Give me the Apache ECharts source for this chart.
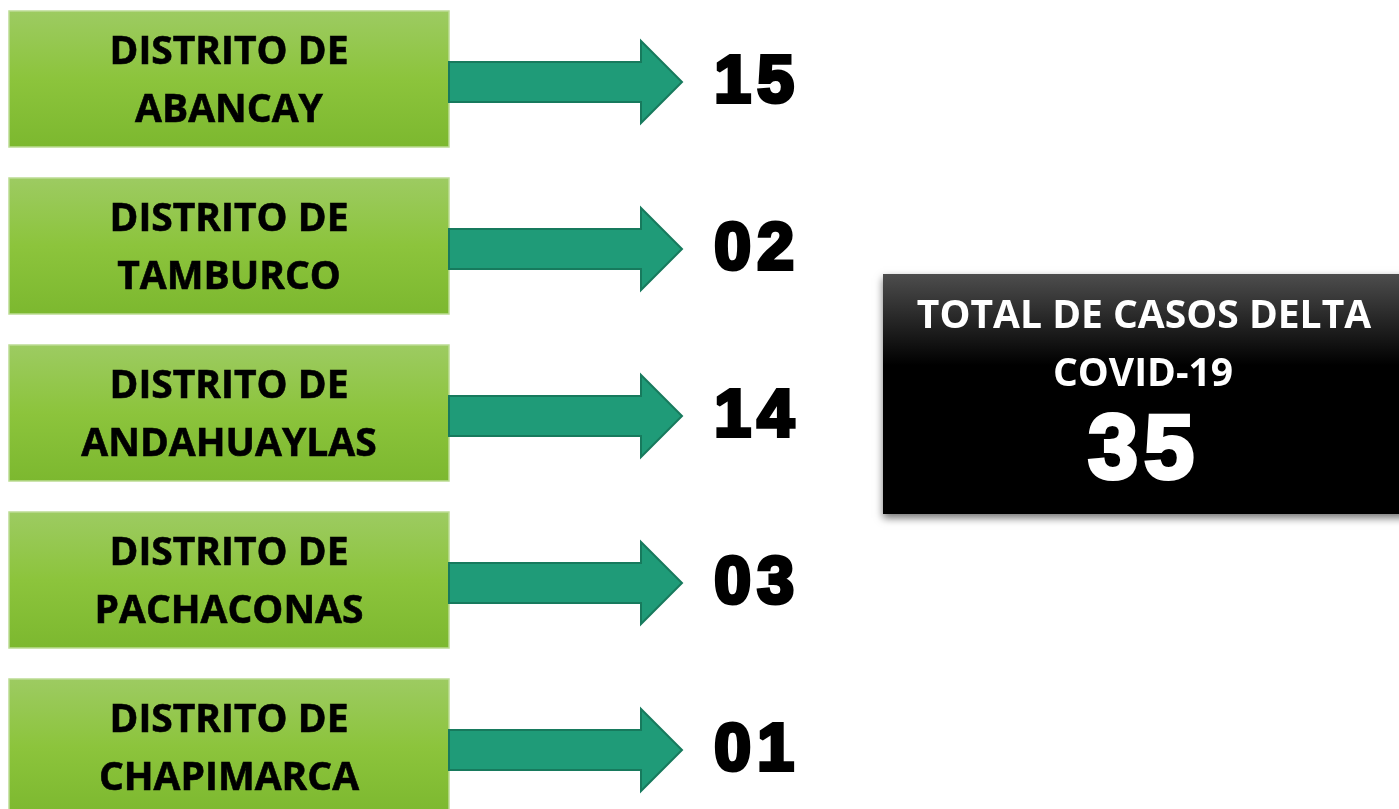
<!DOCTYPE html>
<html><head><meta charset="utf-8">
<style>html,body{margin:0;padding:0;background:#fff}#c{width:1399px;height:809px}</style>
<script src="https://cdn.jsdelivr.net/npm/echarts@6/dist/echarts.min.js"></script>
</head><body><div id="c"></div>
<script>
const districts = ['ABANCAY', 'TAMBURCO', 'ANDAHUAYLAS', 'PACHACONAS', 'CHAPIMARCA'];
const prefix = 'DISTRITO DE';
const cases = [15, 2, 14, 3, 1];
const totalTitle = ['TOTAL DE CASOS DELTA', 'COVID-19'];
const total = cases.reduce((a, b) => a + b, 0);

const chart = echarts.init(document.getElementById('c'), null, {renderer: 'canvas'});
const pad2 = n => String(n).padStart(2, '0');
const boxFont = 'bold 39px "Open Sans", sans-serif';

// draw a number as spaced digits (wide, heavy look)
function digitTexts(str, cx, cy, size, advance, color, lw) {
  const n = str.length;
  return str.split('').map((ch, k) => ({
    type: 'text',
    style: {
      x: cx + (k - (n - 1) / 2) * advance, y: cy, text: ch,
      font: 'bold ' + size + 'px "Liberation Sans", Arial, sans-serif',
      fill: color, stroke: color, lineWidth: lw,
      align: 'center', verticalAlign: 'middle'
    }
  }));
}

const option = {
  animation: false,
  backgroundColor: '#ffffff',
  grid: {left: 0, right: 0, top: 0, bottom: 0},
  xAxis: {type: 'value', min: 0, max: 1399, show: false},
  yAxis: {type: 'value', inverse: true, min: -79 / 167, max: (809 - 79) / 167, show: false},
  series: [{
    type: 'custom',
    data: cases.map((v, i) => [i, v]),
    encode: {x: 1, y: 0},
    renderItem: function (params, api) {
      const i = api.value(0);
      const v = api.value(1);
      const cy = api.coord([0, i])[1];
      const ay = cy + 3;
      return {
        type: 'group',
        children: [
          {
            type: 'rect',
            shape: {x: 9, y: cy - 68, width: 440, height: 136},
            style: {
              fill: new echarts.graphic.LinearGradient(0, 0, 0, 1, [
                {offset: 0, color: '#9dcb62'},
                {offset: 0.5, color: '#8cc43c'},
                {offset: 1, color: '#7cb82f'}
              ]),
              stroke: '#bcdc94', lineWidth: 1.5
            }
          },
          {
            type: 'text',
            style: {x: 229, y: cy - 26, text: prefix, font: boxFont, fill: '#000', stroke: '#000', lineWidth: 0.6, align: 'center', verticalAlign: 'middle'}
          },
          {
            type: 'text',
            style: {x: 229, y: cy + 32, text: districts[i], font: boxFont, fill: '#000', stroke: '#000', lineWidth: 0.6, align: 'center', verticalAlign: 'middle'}
          },
          {
            type: 'polygon',
            shape: {points: [
              [449, ay - 20], [641, ay - 20], [641, ay - 41], [682, ay],
              [641, ay + 41], [641, ay + 20], [449, ay + 20]
            ]},
            style: {fill: '#1f9b78', stroke: '#177a5d', lineWidth: 2}
          }
        ].concat(digitTexts(pad2(v), 754, cy + 5, 66, 43, '#000', 4))
      };
    }
  }],
  graphic: [{
    type: 'group',
    children: [
      {
        type: 'rect',
        shape: {x: 883, y: 274, width: 530, height: 240},
        style: {
          fill: new echarts.graphic.LinearGradient(0, 0, 0, 1, [
            {offset: 0, color: '#4d4d4d'},
            {offset: 0.38, color: '#000000'},
            {offset: 1, color: '#000000'}
          ]),
          shadowBlur: 8, shadowOffsetY: 4, shadowOffsetX: 0, shadowColor: 'rgba(0,0,0,0.55)'
        }
      },
      {
        type: 'text',
        style: {x: 1144, y: 317, text: totalTitle[0], font: 'bold 39px "Open Sans", sans-serif', fill: '#fff', align: 'center', verticalAlign: 'middle'}
      },
      {
        type: 'text',
        style: {x: 1143, y: 375, text: totalTitle[1], font: 'bold 39px "Open Sans", sans-serif', fill: '#fff', align: 'center', verticalAlign: 'middle'}
      }
    ].concat(digitTexts(String(total), 1141, 453, 90, 56, '#fff', 4))
  }]
};
chart.setOption(option);
</script>
</body></html>
